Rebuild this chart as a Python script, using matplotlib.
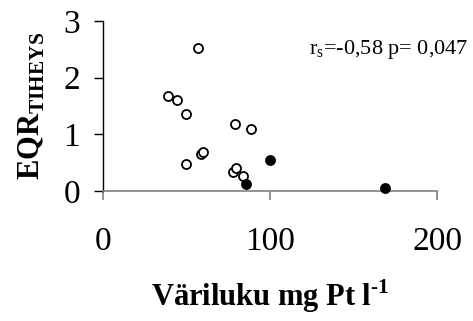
import matplotlib
matplotlib.use("Agg")
import matplotlib.pyplot as plt

# Open circles
open_x = [57, 39, 44.5, 49.5, 49.5, 58.5, 60, 79, 88.5, 78, 79.5, 84]
open_y = [2.53, 1.68, 1.60, 1.36, 0.48, 0.65, 0.69, 1.19, 1.09, 0.33, 0.41, 0.27]
# Filled circles
filled_x = [100, 85.5, 169]
filled_y = [0.55, 0.13, 0.06]

x_ticks = [0, 100, 200]
y_ticks = [0, 1, 2, 3]

plt.rcParams["font.family"] = ["Liberation Serif", "DejaVu Serif"]
plt.rcParams["mathtext.fontset"] = "custom"
plt.rcParams["mathtext.rm"] = "Liberation Serif"
plt.rcParams["mathtext.bf"] = "Liberation Serif:bold"

fig = plt.figure(figsize=(4.73, 3.21), dpi=100, facecolor="white")
ax = fig.add_axes([0.218, 0.405, 0.706, 0.53])

ax.plot(open_x, open_y, "o", ms=6.5, mfc="white", mec="black", mew=1.3,
        clip_on=False, zorder=3)
ax.plot(filled_x, filled_y, "o", ms=6.5, mfc="black", mec="black", mew=1.3,
        clip_on=False, zorder=4)

ax.set_xlim(0, 200)
ax.set_ylim(0, 3)
ax.set_xticks(x_ticks)
ax.set_yticks(y_ticks)

for s in ["top", "right"]:
    ax.spines[s].set_visible(False)
ax.spines["bottom"].set_color("#808080")
ax.spines["bottom"].set_linewidth(1.2)
ax.spines["left"].set_color("black")
ax.spines["left"].set_linewidth(1.0)

ax.tick_params(axis="x", direction="out", length=6.5, width=1.2, color="#808080",
               labelsize=24, pad=19)
ax.tick_params(axis="y", direction="out", length=6.5, width=1.0, color="black",
               labelsize=24, pad=10)

ax.set_xlabel("Väriluku mg Pt l$^{\\mathbf{\u20101}}$",
              fontsize=22, fontweight="bold", labelpad=15)
ax.set_ylabel(r"EQR$_{\mathbf{TIHEYS}}$", fontsize=22, fontweight="bold", labelpad=12)

ax.text(1.093, 0.83, r"r$_{\mathrm{s}}$=-0,58 p= 0,047", transform=ax.transAxes,
        fontsize=16, ha="right", va="center")

fig.savefig("out.png", dpi=100, facecolor="white")
